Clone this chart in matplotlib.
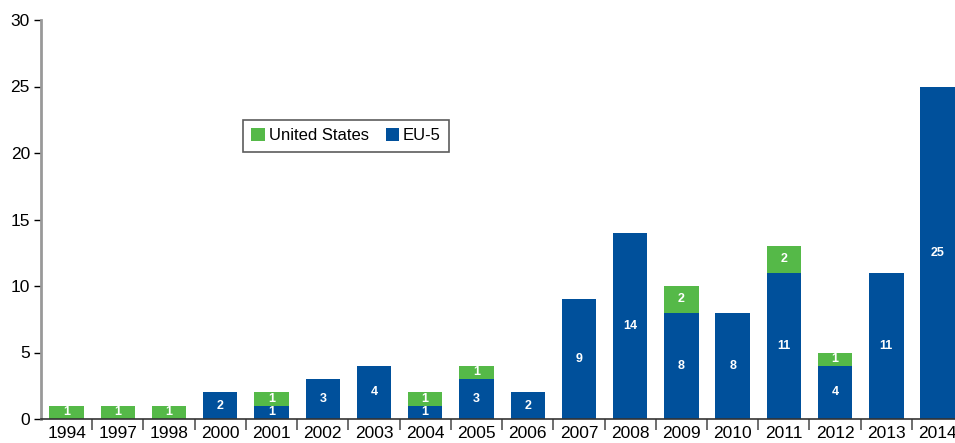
import matplotlib
matplotlib.use("Agg")
import matplotlib.pyplot as plt
import numpy as np
from matplotlib import font_manager

years = ["1994", "1997", "1998", "2000", "2001", "2002", "2003", "2004", "2005",
         "2006", "2007", "2008", "2009", "2010", "2011", "2012", "2013", "2014"]
eu5 = [0, 0, 0, 2, 1, 3, 4, 1, 3, 2, 9, 14, 8, 8, 11, 4, 11, 25]
us = [1, 1, 1, 0, 1, 0, 0, 1, 1, 0, 0, 0, 2, 0, 2, 1, 0, 0]
yticks = [0, 5, 10, 15, 20, 25, 30]

names = {f.name for f in font_manager.fontManager.ttflist}
fam = "Liberation Sans Narrow" if "Liberation Sans Narrow" in names else "Liberation Sans"
plt.rcParams['font.family'] = [fam, 'DejaVu Sans']

green = "#55B948"
blue = "#00509B"

fig = plt.figure(figsize=(9.55, 4.43), dpi=100)
ax = fig.add_axes([41/955, 24/443, 1 - 41/955, 399/443])

x = np.arange(len(years))
w = 0.67
ax.bar(x, eu5, w, color=blue, label="EU-5", zorder=2)
ax.bar(x, us, w, bottom=eu5, color=green, label="United States", zorder=2)

for i in range(len(years)):
    if eu5[i] > 0:
        ax.text(x[i], eu5[i] / 2, str(eu5[i]), ha="center", va="center",
                color="white", fontsize=9, fontweight="bold")
    if us[i] > 0:
        ax.text(x[i], eu5[i] + us[i] / 2, str(us[i]), ha="center", va="center",
                color="white", fontsize=9, fontweight="bold")

ax.set_xlim(-0.5, 17.34)
ax.set_ylim(0, 30)
ax.set_yticks(yticks)
ax.set_yticklabels([str(t) for t in yticks], fontsize=12.5)
ax.set_xticks(x)
ax.set_xticklabels(years, fontsize=12.5)
ax.set_xticks(np.arange(0.5, len(years) - 0.5, 1), minor=True)
ax.tick_params(axis="x", which="major", length=0, pad=5)
ax.tick_params(axis="x", which="minor", length=8, width=1.2, color="#555555", direction="out")
ax.tick_params(axis="y", length=5, width=1, color="black", direction="out", pad=3)

for s in ["top", "right"]:
    ax.spines[s].set_visible(False)
ax.spines["left"].set_color("#999999")
ax.spines["left"].set_linewidth(2)
ax.spines["bottom"].set_color("#333333")
ax.spines["bottom"].set_linewidth(1.2)
ax.spines["bottom"].set_zorder(3)

h, l = ax.get_legend_handles_labels()
leg = ax.legend([h[1], h[0]], [l[1], l[0]], loc="upper left",
                bbox_to_anchor=((243 - 41) / 914, (419 - 120) / 399),
                ncol=2, fontsize=12, frameon=True, fancybox=False,
                edgecolor="#333333", handlelength=0.8, handleheight=0.8,
                handletextpad=0.25, columnspacing=1.0, borderpad=0.5,
                borderaxespad=0)
leg.get_frame().set_linewidth(1.2)

fig.savefig("out.png", dpi=100)
